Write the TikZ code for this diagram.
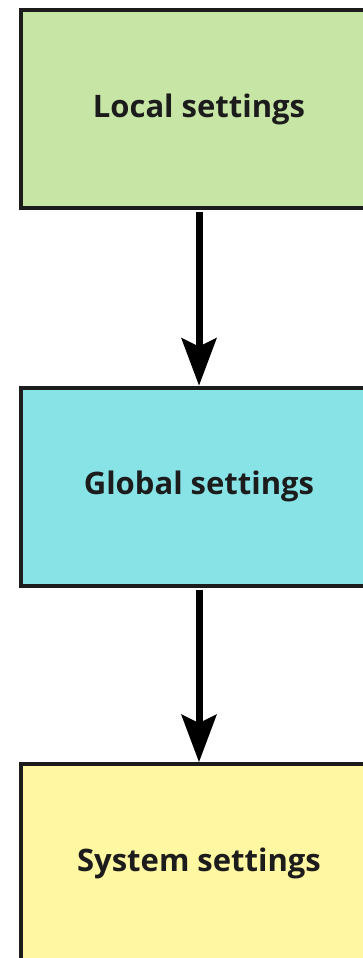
\documentclass[tikz,border=0pt]{standalone}
\usepackage{fontspec}
\setmainfont{Open Sans}
\usetikzlibrary{arrows.meta}
\definecolor{localfill}{HTML}{C7E6A5}
\definecolor{globalfill}{HTML}{87E3E6}
\definecolor{systemfill}{HTML}{FFF7A1}
\definecolor{edge}{HTML}{1C1C1C}
\begin{document}
\begin{tikzpicture}[x=1pt,y=-1pt,
  layer/.style={draw=edge, line width=4pt, minimum width=356pt, minimum height=198pt,
    inner sep=0pt, text=edge, font=\fontsize{31}{36}\selectfont\bfseries},
  flow/.style={line width=7pt, black, shorten <=2pt,
    -{Stealth[length=48pt,width=36pt,inset=9pt,line width=0pt]}}]
  \useasboundingbox (0,0) rectangle (363,958);
  \node[layer, fill=localfill]  (local)  at (199,109) {Local settings};
  \node[layer, fill=globalfill] (global) at (199,486.5) {Global settings};
  \node[layer, fill=systemfill] (system) at (199,863) {System settings};
  \draw[flow] (local.south) -- (global.north);
  \draw[flow] (global.south) -- (system.north);
\end{tikzpicture}
\end{document}
